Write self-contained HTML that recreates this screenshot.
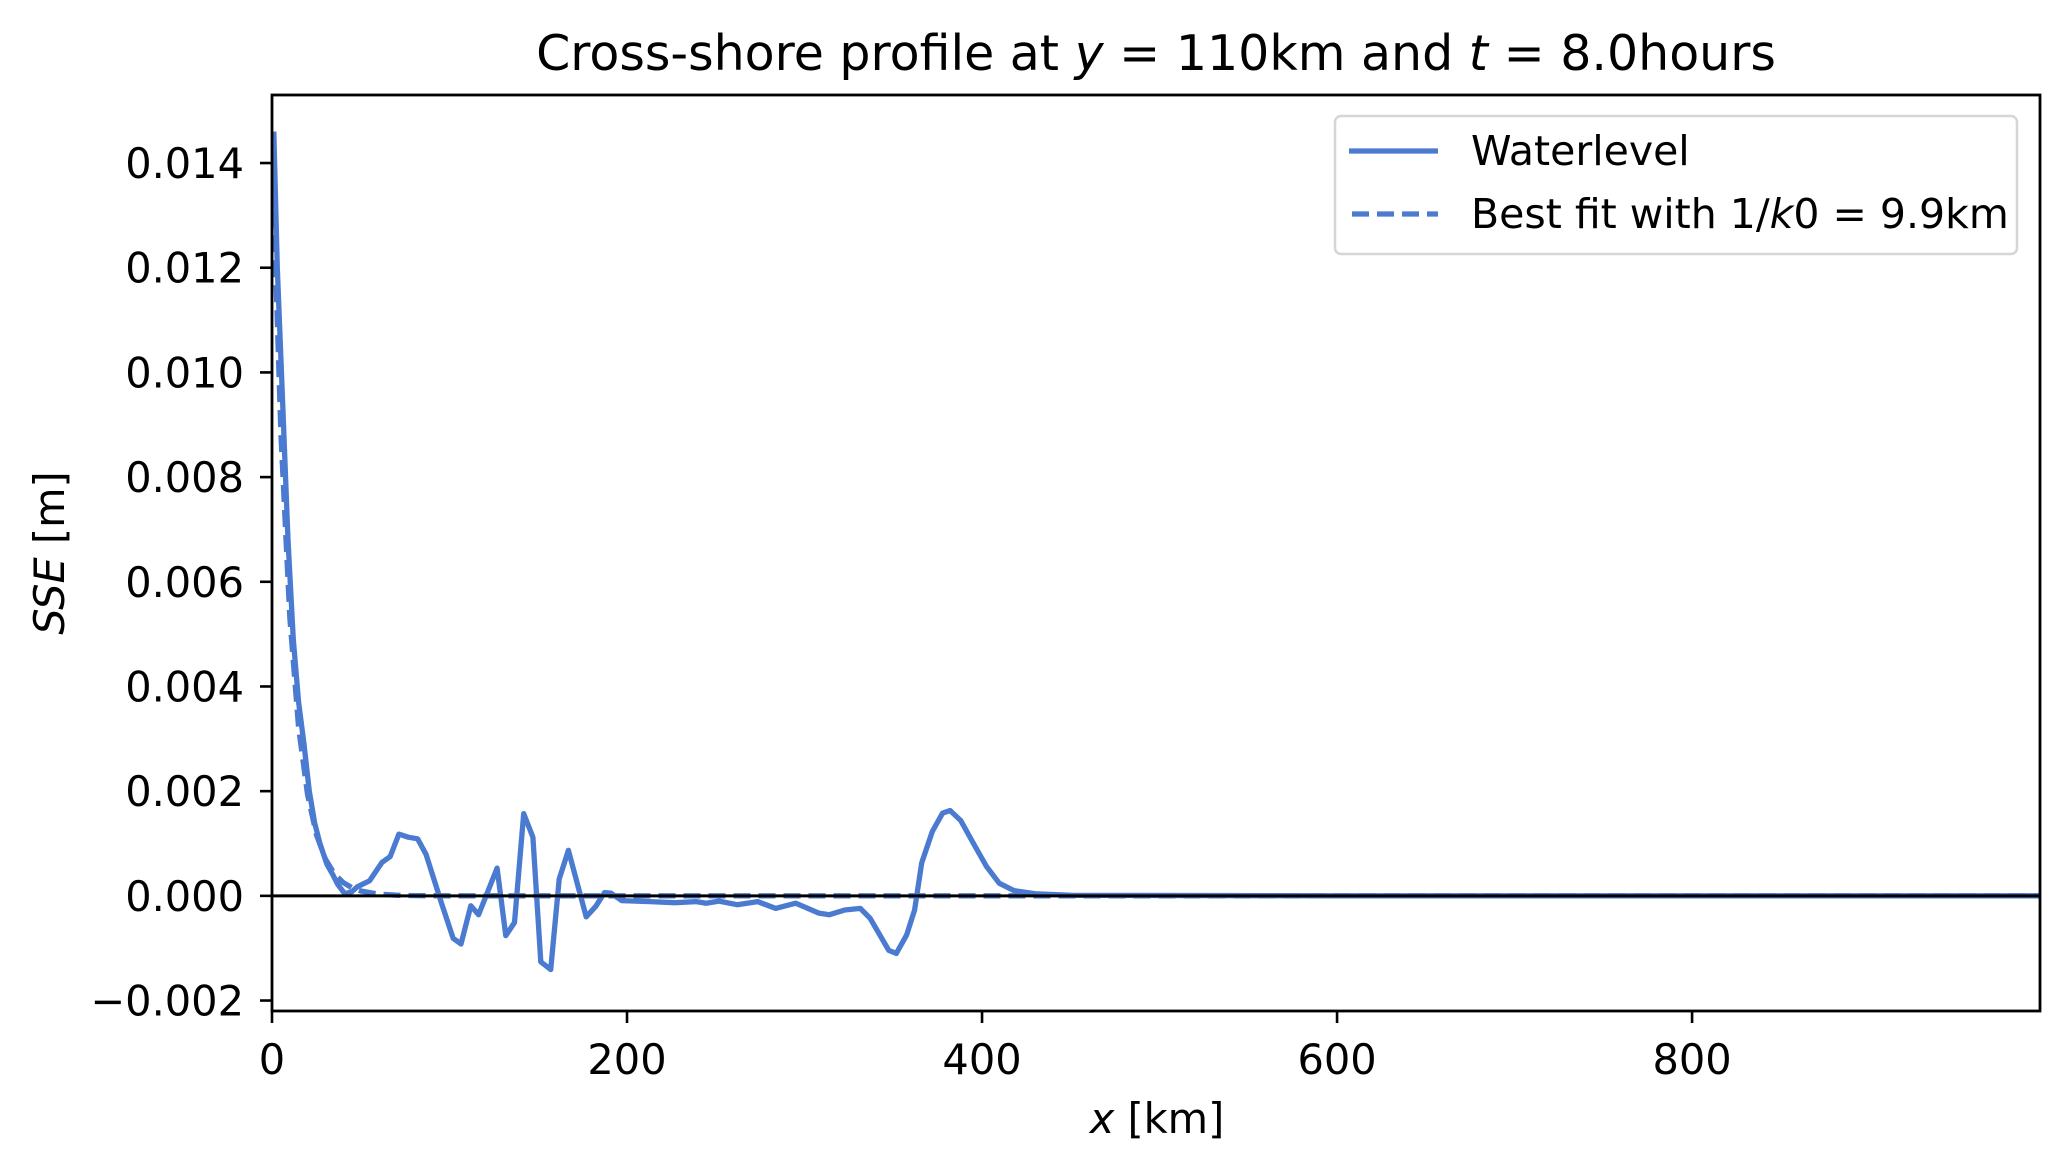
<!DOCTYPE html>
<html><head><meta charset="utf-8"><style>
html,body{margin:0;padding:0;background:#fff;}
svg{display:block;font-family:"DejaVu Sans","Liberation Sans",sans-serif;}
</style></head><body>
<svg id="chart" width="2070" height="1170" viewBox="0 0 2070 1170">
<rect width="2070" height="1170" fill="#fff"/>
<text x="1156" y="70" font-size="49" text-anchor="middle">Cross-shore profile at <tspan font-style="italic">y</tspan> = 110km and <tspan font-style="italic">t</tspan> = 8.0hours</text>
<g id="plot"></g>
<g id="axes"></g>
<text x="64" y="553" font-size="41.5" text-anchor="middle" transform="rotate(-90 64 553)"><tspan font-style="italic">SSE</tspan> [m]</text>
<text x="1157" y="1133" font-size="41.5" text-anchor="middle"><tspan font-style="italic">x</tspan> [km]</text>
<g>
<rect x="1335" y="116" width="682" height="138" rx="6" fill="#fff" fill-opacity="0.8" stroke="#d6d6d6" stroke-width="2.5"/>
<line x1="1349" y1="151" x2="1438" y2="151" stroke="#4a7bd1" stroke-width="5.3"/>
<text x="1471" y="165" font-size="41">Waterlevel</text>
<line x1="1352" y1="214" x2="1438" y2="214" stroke="#4a7bd1" stroke-width="5.3" stroke-dasharray="17,8"/>
<text x="1471" y="228" font-size="41">Best fit with 1/<tspan font-style="italic">k</tspan>0 = 9.9km</text>
</g>
</svg>
<script>
const xTicks = [0, 200, 400, 600, 800];
const yTicks = [-0.002, 0, 0.002, 0.004, 0.006, 0.008, 0.010, 0.012, 0.014];
const yTickLabels = ["\u22120.002","0.000","0.002","0.004","0.006","0.008","0.010","0.012","0.014"];
const waterX = [1,3,6,9,12,15,18,21,24,27,31,34,37,41,45,48,55,62,66.6,71.5,76.7,82,86.8,95.5,102,106.5,112,116.4,126.8,131.7,136.6,141.8,147,151.4,157,161.8,167,177,182.4,187.3,191,197,212.8,227,239,244.6,251.8,262,273.6,283.7,295,308,314,322.7,331.4,337,347.4,351.7,357.5,362,366,372,377.8,382,388,395,402.5,409.7,418,430,450,600,800,996];
const waterY = [0.0146,0.0120,0.0094,0.0068,0.0049,0.0037,0.0029,0.0020,0.0014,0.0010,0.0006,0.00042,0.00022,0.00004,0.00008,0.00017,0.00029,0.00064,0.00075,0.00118,0.00112,0.00109,0.00079,-0.00014,-0.00081,-0.00092,-0.00019,-0.00036,0.00053,-0.00076,-0.00051,0.00157,0.00112,-0.00126,-0.00141,0.00032,0.00087,-0.0004,-0.0002,0.00006,0.00005,-0.00009,-0.00011,-0.00013,-0.00011,-0.00014,-0.0001,-0.00017,-0.00011,-0.00024,-0.00014,-0.00033,-0.00036,-0.00027,-0.00024,-0.00043,-0.00104,-0.0011,-0.00075,-0.00027,0.00063,0.00123,0.00158,0.00163,0.00144,0.00101,0.00056,0.00024,0.0001,0.00004,0.00001,0,0,0];
const fitX = [1,5,10,15,20,25,30,35,40,45,50,60,70,80,100,996];
const fitY = [0.0131,0.00883,0.00532,0.00321,0.00194,0.00117,0.000706,0.000426,0.000257,0.000155,0.0000935,0.000034,0.0000124,0.0000045,0.0000006,0];

const L=272, R=2040, T=95, B=1011;
const xMin=0, xMax=996, yMin=-0.0022, yMax=0.0153;
const sx = v => L + (v - xMin) / (xMax - xMin) * (R - L);
const sy = v => B - (v - yMin) / (yMax - yMin) * (B - T);
const NS='http://www.w3.org/2000/svg';
const plot=document.getElementById('plot'), axes=document.getElementById('axes');
function mk(tag, attrs, parent){const e=document.createElementNS(NS,tag);for(const k in attrs)e.setAttribute(k,attrs[k]);parent.appendChild(e);return e;}

const clip=mk('clipPath',{id:'clp'},plot);
mk('rect',{x:L,y:T,width:R-L,height:B-T},clip);
const g=mk('g',{'clip-path':'url(#clp)'},plot);



const fitPath=mk('path',{d:fitX.map((x,i)=>(i?'L':'M')+sx(x).toFixed(1)+' '+sy(fitY[i]).toFixed(1)).join(''),fill:'none',stroke:'#4a7bd1','stroke-width':5.3,'stroke-dasharray':'17,8'},g);



const wPath=mk('path',{d:waterX.map((x,i)=>(i?'L':'M')+sx(x).toFixed(1)+' '+sy(waterY[i]).toFixed(1)).join(''),fill:'none',stroke:'#4a7bd1','stroke-width':5.3,'stroke-linejoin':'round'},g);



const zl=mk('line',{x1:L,x2:R,y1:sy(0),y2:sy(0),stroke:'#000','stroke-width':3},g);



const frame=mk('rect',{x:L,y:T,width:R-L,height:B-T,fill:'none',stroke:'#000','stroke-width':2.8},axes);



xTicks.forEach(v=>{
  const t=mk('line',{x1:sx(v),x2:sx(v),y1:B,y2:B+12,stroke:'#000','stroke-width':2.6},axes);
  
  
  const l=mk('text',{x:sx(v),y:1074,'font-size':41.5,'text-anchor':'middle'},axes);
  l.textContent=String(v);
  
  
});
yTicks.forEach((v,i)=>{
  const t=mk('line',{x1:L-12,x2:L,y1:sy(v),y2:sy(v),stroke:'#000','stroke-width':2.6},axes);
  
  
  const l=mk('text',{x:L-28,y:sy(v)+15,'font-size':41.5,'text-anchor':'end'},axes);
  l.textContent=yTickLabels[i];
  
  
});
</script>
</body></html>
